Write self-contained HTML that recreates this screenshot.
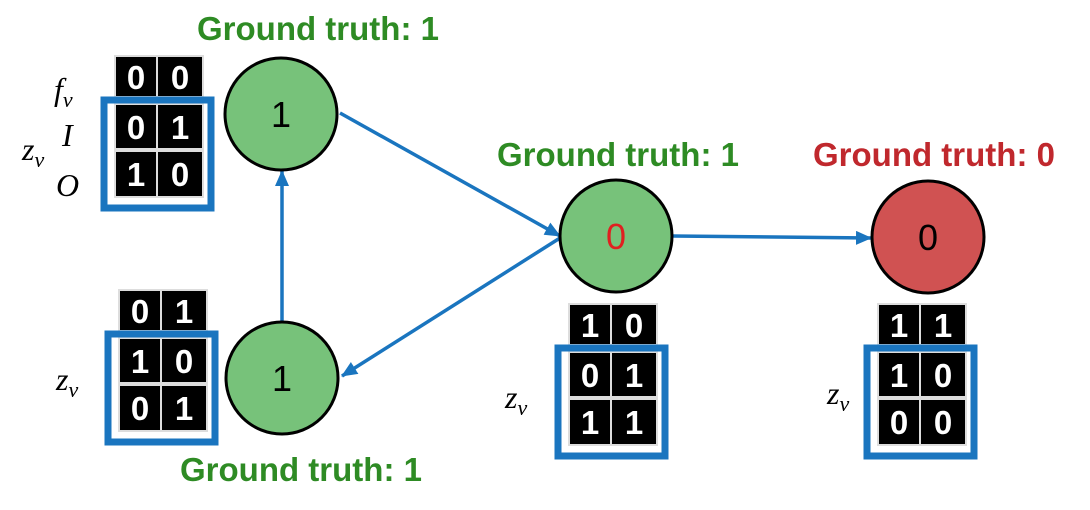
<!DOCTYPE html>
<html><head><style>
body{margin:0;background:#fff;}
svg text{font-family:"Liberation Sans",sans-serif;}
.gt{font-weight:bold;font-size:33px;}
.c{font-size:33px;font-weight:bold;fill:#fff;text-anchor:middle;}
.m{font-family:"Liberation Serif",serif;font-style:italic;font-size:32px;}
</style></head><body>
<svg width="1090" height="505" viewBox="0 0 1090 505" xmlns="http://www.w3.org/2000/svg">
<defs><marker id="a" markerWidth="16" markerHeight="14" refX="15" refY="7" orient="auto" markerUnits="userSpaceOnUse"><path d="M0,0 L16,7 L0,14 z" fill="#1a75bf"/></marker></defs>
<g stroke="#1a75bf" stroke-width="3.5" fill="none" marker-end="url(#a)">
<line x1="340" y1="113" x2="560" y2="236"/>
<line x1="560" y1="238" x2="342" y2="376"/>
<line x1="282" y1="323" x2="282" y2="171"/>
<line x1="672" y1="236" x2="871" y2="238"/>
</g>
<g stroke="#000" stroke-width="3">
<circle cx="281" cy="114" r="56" fill="#77c27a"/>
<circle cx="282" cy="378" r="56" fill="#77c27a"/>
<circle cx="616" cy="236" r="56" fill="#77c27a"/>
<circle cx="928" cy="237" r="56" fill="#d05252"/>
</g>
<g font-size="36" text-anchor="middle">
<text x="281" y="127">1</text><text x="282" y="391">1</text>
<text x="616" y="249" fill="#e02020">0</text><text x="928" y="250">0</text>
</g>
<text class="gt" x="197" y="40" fill="#2e8b24">Ground truth: 1</text>
<text class="gt" x="497" y="166" fill="#2e8b24">Ground truth: 1</text>
<text class="gt" x="813" y="166" fill="#c0282d">Ground truth: 0</text>
<text class="gt" x="180" y="481" fill="#2e8b24">Ground truth: 1</text>
<g id="t1">
<rect x="114" y="55" width="90" height="143" fill="#ddd"/>
<rect x="116" y="57" width="40" height="39" fill="#000"/><rect x="158" y="57" width="44" height="39" fill="#000"/>
<rect x="116" y="105" width="40" height="43" fill="#000"/><rect x="158" y="105" width="44" height="43" fill="#000"/>
<rect x="116" y="152" width="40" height="44" fill="#000"/><rect x="158" y="152" width="44" height="44" fill="#000"/>
<rect x="104" y="100" width="107" height="108" fill="none" stroke="#1a75bf" stroke-width="7"/>
<text class="c" x="136" y="89">0</text><text class="c" x="180" y="89">0</text>
<text class="c" x="136" y="139">0</text><text class="c" x="180" y="139">1</text>
<text class="c" x="136" y="186">1</text><text class="c" x="180" y="186">0</text>
</g>
<text class="m" x="54" y="100">f<tspan font-size="22" dy="7">v</tspan></text>
<text class="m" x="62" y="146">I</text>
<text class="m" x="22" y="160">z<tspan font-size="22" dy="7">v</tspan></text>
<text class="m" x="56" y="196">O</text>
<g transform="translate(4,234)">
<rect x="114" y="55" width="90" height="143" fill="#ddd"/>
<rect x="116" y="57" width="40" height="39" fill="#000"/><rect x="158" y="57" width="44" height="39" fill="#000"/>
<rect x="116" y="105" width="40" height="43" fill="#000"/><rect x="158" y="105" width="44" height="43" fill="#000"/>
<rect x="116" y="152" width="40" height="44" fill="#000"/><rect x="158" y="152" width="44" height="44" fill="#000"/>
<rect x="104" y="100" width="107" height="108" fill="none" stroke="#1a75bf" stroke-width="7"/>
<text class="c" x="136" y="89">0</text><text class="c" x="180" y="89">1</text>
<text class="c" x="136" y="139">1</text><text class="c" x="180" y="139">0</text>
<text class="c" x="136" y="186">0</text><text class="c" x="180" y="186">1</text>
</g>
<text class="m" x="56" y="390">z<tspan font-size="22" dy="7">v</tspan></text>
<g transform="translate(454,248)">
<rect x="114" y="55" width="90" height="143" fill="#ddd"/>
<rect x="116" y="57" width="40" height="39" fill="#000"/><rect x="158" y="57" width="44" height="39" fill="#000"/>
<rect x="116" y="105" width="40" height="43" fill="#000"/><rect x="158" y="105" width="44" height="43" fill="#000"/>
<rect x="116" y="152" width="40" height="44" fill="#000"/><rect x="158" y="152" width="44" height="44" fill="#000"/>
<rect x="104" y="100" width="107" height="108" fill="none" stroke="#1a75bf" stroke-width="7"/>
<text class="c" x="136" y="89">1</text><text class="c" x="180" y="89">0</text>
<text class="c" x="136" y="139">0</text><text class="c" x="180" y="139">1</text>
<text class="c" x="136" y="186">1</text><text class="c" x="180" y="186">1</text>
</g>
<text class="m" x="505" y="408">z<tspan font-size="22" dy="7">v</tspan></text>
<g transform="translate(763,248)">
<rect x="114" y="55" width="90" height="143" fill="#ddd"/>
<rect x="116" y="57" width="40" height="39" fill="#000"/><rect x="158" y="57" width="44" height="39" fill="#000"/>
<rect x="116" y="105" width="40" height="43" fill="#000"/><rect x="158" y="105" width="44" height="43" fill="#000"/>
<rect x="116" y="152" width="40" height="44" fill="#000"/><rect x="158" y="152" width="44" height="44" fill="#000"/>
<rect x="104" y="100" width="107" height="108" fill="none" stroke="#1a75bf" stroke-width="7"/>
<text class="c" x="136" y="89">1</text><text class="c" x="180" y="89">1</text>
<text class="c" x="136" y="139">1</text><text class="c" x="180" y="139">0</text>
<text class="c" x="136" y="186">0</text><text class="c" x="180" y="186">0</text>
</g>
<text class="m" x="827" y="404">z<tspan font-size="22" dy="7">v</tspan></text>
</svg>
</body></html>
